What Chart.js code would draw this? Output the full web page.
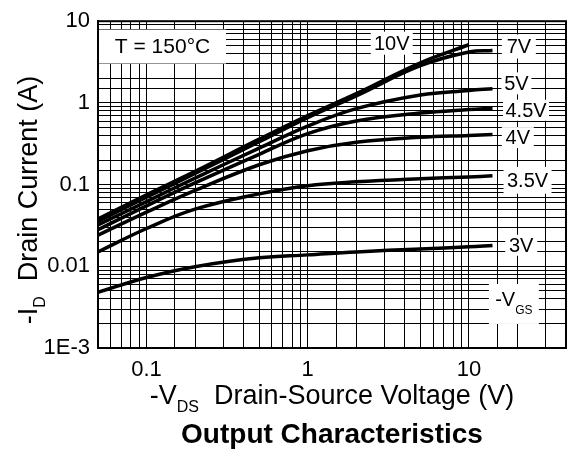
<!DOCTYPE html>
<html>
<head>
<meta charset="utf-8">
<title>Output Characteristics</title>
<script src="https://cdn.jsdelivr.net/npm/chart.js@4.4.1/dist/chart.umd.min.js"></script>
<style>
  body { margin: 0; background: #fff; }
  canvas { display: block; }
</style>
</head>
<body>
<canvas id="chart" width="575" height="452"></canvas>
<script>
// -VDS sample points (V)
const vds = [0.05, 0.1, 0.2, 0.5, 1, 2, 5, 10, 14];
// -ID (A) for each -VGS
const id10V = [0.038, 0.075, 0.145, 0.36, 0.70, 1.3, 3.1, 5.15, null];
const id7V = [0.0355, 0.07, 0.137, 0.335, 0.66, 1.22, 2.85, 4.2, 4.37];
const id5V = [0.032, 0.062, 0.12, 0.28, 0.52, 0.85, 1.25, 1.42, 1.49];
const id45V = [0.028, 0.055, 0.105, 0.235, 0.42, 0.6, 0.75, 0.83, 0.86];
const id4V = [0.024, 0.046, 0.085, 0.175, 0.26, 0.33, 0.38, 0.40, 0.41];
const id35V = [0.015, 0.029, 0.05, 0.077, 0.097, 0.108, 0.118, 0.124, 0.128];
const id3V = [0.0048, 0.0073, 0.0099, 0.0127, 0.0138, 0.015, 0.0163, 0.0173, 0.018];

const seriesNames = ['10V', '7V', '5V', '4.5V', '4V', '3.5V', '3V'];
const seriesValues = [id10V, id7V, id5V, id45V, id4V, id35V, id3V];

const xTickValues = [0.1, 1, 10];
const xTickLabels = ['0.1', '1', '10'];
const yTickValues = [0.001, 0.01, 0.1, 1, 10];
const yTickLabels = ['1E-3', '0.01', '0.1', '1', '10'];

const FONT = "'Liberation Sans', Arial, Helvetica, sans-serif";

// labels inside the plot, placed at data coordinates (box size in px)
const notes = [
    { text: 'T = 150°C', x: 0.1257, y: 4.89, w: 127, h: 34 },
    { text: '10V', x: 3.32, y: 5.38, w: 42, h: 23 },
    { text: '7V', x: 20.4, y: 4.89, w: 34, h: 24 },
    { text: '5V', x: 19.7, y: 1.735, w: 30, h: 22 },
    { text: '4.5V', x: 22.6, y: 0.813, w: 46, h: 21 },
    { text: '4V', x: 20.1, y: 0.376, w: 32, h: 21 },
    { text: '3.5V', x: 23.1, y: 0.113, w: 48, h: 27 },
    { text: '3V', x: 21.1, y: 0.0181, w: 32, h: 21 },
    { text: '-VGS', x: 19.0, y: 0.00346, w: 50, h: 40 }
];

function tickLabel(values, labels) {
    return function (value) {
        for (let i = 0; i < values.length; i++) {
            if (Math.abs(value - values[i]) < values[i] * 1e-6) return labels[i];
        }
        return '';
    };
}

// draw a run of text pieces (for subscripts), centred on cx
function richText(ctx, parts, cx, y) {
    let total = 0;
    parts.forEach(p => {
        ctx.font = (p.bold ? 'bold ' : '') + p.size + 'px ' + FONT;
        p.w = ctx.measureText(p.t).width;
        total += p.w;
    });
    let x = cx - total / 2;
    ctx.textAlign = 'left';
    ctx.textBaseline = 'alphabetic';
    parts.forEach(p => {
        ctx.font = (p.bold ? 'bold ' : '') + p.size + 'px ' + FONT;
        ctx.fillText(p.t, x, y + (p.dy || 0));
        x += p.w;
    });
}

const decorPlugin = {
    id: 'decor',
    beforeDatasetsDraw(chart) {
        const ctx = chart.ctx;
        const xs = chart.scales.x, ys = chart.scales.y;
        ctx.save();
        notes.forEach(n => {
            const px = xs.getPixelForValue(n.x);
            const py = ys.getPixelForValue(n.y);
            ctx.fillStyle = '#fff';
            ctx.fillRect(px - n.w / 2, py - n.h / 2, n.w, n.h);
            ctx.fillStyle = '#000';
            if (n.text === '-VGS') {
                richText(ctx, [
                    { t: '-V', size: 20 },
                    { t: 'GS', size: 12, dy: 8 }
                ], px, py + 2);
            } else {
                ctx.font = (n.text.startsWith('T') ? 21 : 20) + 'px ' + FONT;
                ctx.textAlign = 'center';
                ctx.textBaseline = 'middle';
                ctx.fillText(n.text, px, py + 1);
            }
        });
        ctx.restore();
    },
    afterDraw(chart) {
        const ctx = chart.ctx;
        const a = chart.chartArea;
        ctx.save();
        ctx.strokeStyle = '#000';
        ctx.lineWidth = 2;
        ctx.strokeRect(a.left, a.top, a.right - a.left, a.bottom - a.top);

        ctx.fillStyle = '#000';
        const cx = (a.left + a.right) / 2;
        richText(ctx, [
            { t: '-V', size: 27 },
            { t: 'DS', size: 16, dy: 8 },
            { t: '  Drain-Source Voltage (V)', size: 27 }
        ], cx, 404);
        richText(ctx, [{ t: 'Output Characteristics', size: 28, bold: true }], cx, 443);

        ctx.translate(37, 200);
        ctx.rotate(-Math.PI / 2);
        richText(ctx, [
            { t: '-I', size: 27 },
            { t: 'D', size: 16, dy: 8 },
            { t: '  Drain Current (A)', size: 27 }
        ], 0, 0);
        ctx.restore();
    }
};

window.onload = function () {
    const datasets = seriesValues.map((vals, i) => ({
        label: seriesNames[i],
        data: vds.map((v, j) => ({ x: v, y: vals[j] })).filter(p => p.y !== null),
        borderColor: '#000',
        borderWidth: 3.5,
        pointRadius: 0,
        fill: false,
        tension: 0.4
    }));

    const axisCommon = {
        type: 'logarithmic',
        grid: { color: '#000', lineWidth: 1, drawTicks: false },
        border: { color: '#000', width: 2 },
    };

    new Chart(document.getElementById('chart').getContext('2d'), {
        type: 'line',
        data: { datasets: datasets },
        options: {
            responsive: false,
            animation: false,
            devicePixelRatio: 1,
            layout: { padding: { top: 14, right: 2, bottom: 0, left: 0 } },
            plugins: { legend: { display: false }, tooltip: { enabled: false } },
            scales: {
                x: Object.assign({}, axisCommon, {
                    min: 0.05,
                    max: 40,
                    afterFit: s => { s.height = 104; },
                    ticks: {
                        autoSkip: false, maxRotation: 0, padding: 9, color: '#000',
                        font: { size: 22, family: FONT },
                        callback: tickLabel(xTickValues, xTickLabels)
                    }
                }),
                y: Object.assign({}, axisCommon, {
                    min: 0.001,
                    max: 10,
                    afterFit: s => { s.width = 98; },
                    ticks: {
                        autoSkip: false, padding: 8, color: '#000',
                        font: { size: 22, family: FONT },
                        callback: tickLabel(yTickValues, yTickLabels)
                    }
                })
            }
        },
        plugins: [decorPlugin]
    });
};
</script>
</body>
</html>
